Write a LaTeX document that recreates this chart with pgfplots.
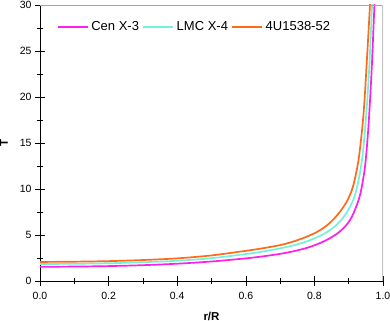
\documentclass[border=0pt]{standalone}
\usepackage{fontspec}
\setmainfont{Liberation Sans}
\usepackage{pgfplots}
\pgfplotsset{compat=1.18}
\definecolor{cenx}{HTML}{FF1EEB}
\definecolor{lmcx}{HTML}{72F2D6}
\definecolor{ufour}{HTML}{FF6A1A}

\begin{document}
\begin{tikzpicture}
\begin{axis}[
  name=ax,
  scale only axis,
  width=343bp, height=276bp,
  xmin=0, xmax=1, ymin=0, ymax=30,
  axis lines*=left,
  axis line style={black, line width=0.8bp, -},
  xtick={0,0.2,...,1.0},
  ytick={0,5,...,30},
  minor x tick num=1,
  minor y tick num=1,
  tick align=center,
  major tick length=10bp,
  minor tick length=6bp,
  tick style={black, line width=0.6bp},
  xticklabel style={yshift=-3bp, /pgf/number format/.cd, fixed, fixed zerofill, precision=1},
  /pgf/number format/assume math mode=true,
  ticklabel style={font=\fontsize{10.5bp}{12bp}\selectfont},
  xlabel={\textbf{r/R}},
  ylabel={\textbf{T}},
  label style={font=\fontsize{11.5bp}{13bp}\selectfont},
  xlabel style={yshift=-5bp},
  ylabel style={yshift=5bp},
  legend style={draw=none, fill=none, legend columns=-1,
    at={(0.048,0.92)}, anchor=west, inner sep=0pt,
    font=\fontsize{13bp}{15bp}\selectfont,
    /tikz/every even column/.append style={column sep=1bp},
    /tikz/every odd column/.append style={column sep=1bp}},
  legend image code/.code={\draw[#1] (0bp,0bp) -- (30bp,0bp);},
  every axis plot/.append style={line width=1.7bp, smooth},
  clip=true,
]
\addplot[cenx] coordinates {
 (0,1.55) (0.1,1.57) (0.2,1.62) (0.3,1.72) (0.4,1.88) (0.5,2.12)
 (0.6,2.46) (0.65,2.68) (0.7,2.95) (0.74,3.24) (0.78,3.62) (0.816,4.12)
 (0.845,4.65) (0.87,5.25) (0.89,5.95) (0.904,6.63) (0.915,7.45) (0.925,8.4)
 (0.932,9.2) (0.938,10.2) (0.946,12.0) (0.951,13.7) (0.957,16.5) (0.962,19.5)
 (0.968,23.8) (0.975,30) (0.978,33)
};
\addlegendentry{Cen X-3}
\addplot[lmcx] coordinates {
 (0,1.85) (0.1,1.87) (0.2,1.93) (0.3,2.04) (0.4,2.2) (0.5,2.48)
 (0.6,2.93) (0.65,3.2) (0.7,3.55) (0.74,3.88) (0.778,4.3) (0.81,4.8) (0.836,5.3)
 (0.86,5.95) (0.88,6.7) (0.895,7.5) (0.909,8.45) (0.917,9.2) (0.923,10.0)
 (0.932,11.6) (0.940,13.5) (0.948,16.6) (0.954,19.6) (0.961,24)
 (0.968,30) (0.971,33)
};
\addlegendentry{LMC X-4}
\addplot[ufour] coordinates {
 (0,2.07) (0.1,2.1) (0.2,2.16) (0.3,2.28) (0.4,2.46) (0.5,2.78)
 (0.6,3.28) (0.65,3.56) (0.7,3.9) (0.729,4.18) (0.77,4.7) (0.807,5.32)
 (0.835,6.0) (0.858,6.8) (0.877,7.65) (0.894,8.6) (0.904,9.4) (0.912,10.2)
 (0.922,11.8) (0.930,13.5) (0.940,16.8) (0.946,19.6) (0.953,24)
 (0.962,30) (0.965,33)
};
\addlegendentry{4U1538-52}
\draw[gray!70, line width=0.6bp] (rel axis cs:0,1) -- (rel axis cs:1,1);
\draw[gray!45, line width=2bp] (rel axis cs:1,0) -- (rel axis cs:1,1);
\end{axis}
\pgfresetboundingbox
\path[use as bounding box] ([xshift=-40bp,yshift=-40bp]ax.south west)
  rectangle ([xshift=7bp,yshift=5bp]ax.north east);
\end{tikzpicture}
\end{document}
